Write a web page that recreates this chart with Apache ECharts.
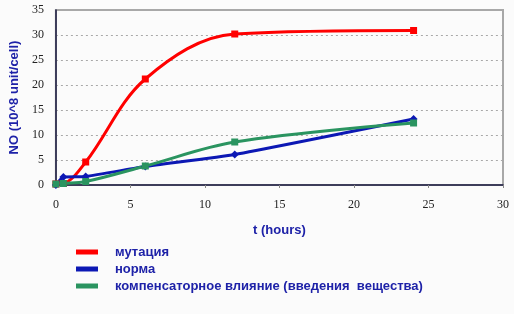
<!DOCTYPE html>
<html><head><meta charset="utf-8">
<script src="https://cdn.jsdelivr.net/npm/echarts@6/dist/echarts.min.js"></script>
<style>html,body{margin:0;padding:0;background:#FBFBFB}#c{width:514px;height:314px}</style>
</head><body><div id="c"></div>
<script>
const seriesNames = ['мутация', 'норма', 'компенсаторное влияние (введения  вещества)'];
const mutationData = [[0, 0.2], [0.5, 0.3], [2, 4.6], [6, 21.2], [12, 30.2], [24, 30.9]];
const normData = [[0, 0], [0.5, 1.6], [2, 1.7], [6, 3.7], [12, 6.1], [24, 13.2]];
const compData = [[0, 0.2], [0.5, 0.3], [2, 0.7], [6, 3.8], [12, 8.6], [24, 12.4]];
const xTicks = [0, 5, 10, 15, 20, 25, 30];
const yTicks = [0, 5, 10, 15, 20, 25, 30, 35];
const colors = ['#FF0000', '#0C18B4', '#2A9460'];
const txtBlue = '#1E22A8';

const chart = echarts.init(document.getElementById('c'));
chart.setOption({
  backgroundColor: '#FBFBFB',
  animation: false,
  color: colors,
  grid: { left: 54, right: 11, top: 10, bottom: 129, show: true, borderColor: '#A8A8A8', borderWidth: 2 },
  xAxis: {
    type: 'value', min: xTicks[0], max: xTicks[xTicks.length - 1], interval: 5,
    name: 't (hours)', nameLocation: 'middle', nameGap: 39,
    nameTextStyle: { color: txtBlue, fontFamily: 'Liberation Sans', fontWeight: 'bold', fontSize: 13 },
    axisLine: { onZero: false, lineStyle: { color: '#1A1A40', width: 1.5 } },
    axisTick: { show: true, length: 3, lineStyle: { color: '#888' } },
    axisLabel: { color: '#222', fontFamily: 'Liberation Serif', fontSize: 12, margin: 14 },
    splitLine: { show: false }
  },
  yAxis: {
    type: 'value', min: yTicks[0], max: yTicks[yTicks.length - 1], interval: 5,
    name: 'NO (10^8 unit/cell)', nameLocation: 'middle', nameGap: 30, nameRotate: 90,
    nameTextStyle: { color: txtBlue, fontFamily: 'Liberation Sans', fontWeight: 'bold', fontSize: 13 },
    axisLine: { show: true, lineStyle: { color: '#1A1A40', width: 1.5 } },
    axisTick: { show: false },
    axisLabel: { color: '#222', fontFamily: 'Liberation Serif', fontSize: 12, margin: 12 },
    splitLine: { show: true, lineStyle: { color: '#A8A8A8', type: [2, 3], width: 1 } }
  },
  legend: {
    orient: 'vertical', left: 76, top: 245, padding: 0, itemWidth: 22, itemHeight: 5, itemGap: 3,
    icon: 'rect', data: seriesNames,
    textStyle: { color: txtBlue, fontFamily: 'Liberation Sans', fontWeight: 'bold', fontSize: 13, padding: [0, 0, 0, 12], lineHeight: 14 }
  },
  series: [
    { name: seriesNames[0], type: 'line', data: mutationData, smooth: 0.35,
      symbol: 'rect', symbolSize: 7, lineStyle: { width: 3 }, itemStyle: { color: colors[0] } },
    { name: seriesNames[1], type: 'line', data: normData, smooth: 0.15,
      symbol: 'diamond', symbolSize: 8, lineStyle: { width: 3 }, itemStyle: { color: colors[1] } },
    { name: seriesNames[2], type: 'line', data: compData, smooth: 0.35,
      symbol: 'rect', symbolSize: 7, lineStyle: { width: 3 }, itemStyle: { color: colors[2] } }
  ]
});
</script></body></html>
